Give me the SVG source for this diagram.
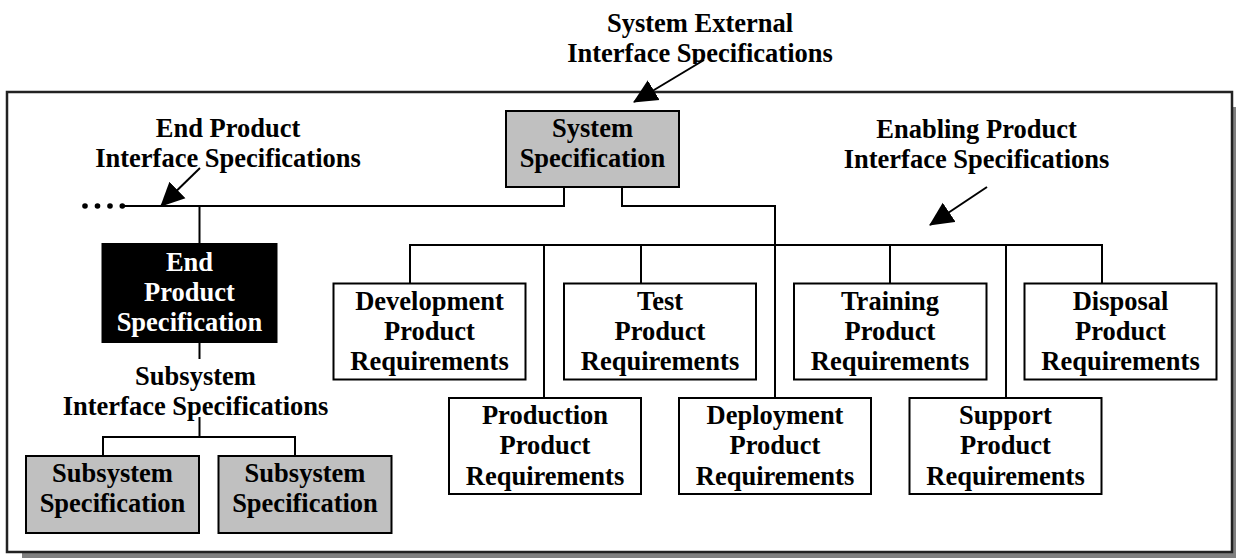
<svg xmlns="http://www.w3.org/2000/svg" width="1236" height="558" viewBox="0 0 1236 558">
  <style>
    text { font-family: "Liberation Serif", "Times New Roman", serif; font-weight: bold; font-size: 26.5px; text-anchor: middle; fill: #000; }
    .box { fill: #fff; stroke: #000; stroke-width: 2; }
    .gray { fill: #c0c0c0; stroke: #000; stroke-width: 2; }
    .black { fill: #000; stroke: #000; stroke-width: 2; }
    .wt { fill: #fff; }
    .conn { fill: none; stroke: #000; stroke-width: 2; }
  </style>
  <defs>
    <marker id="ah" markerUnits="userSpaceOnUse" markerWidth="24" markerHeight="24" viewBox="0 0 23 22" refX="22" refY="11" orient="auto">
      <path d="M0,0 L23,11 L0,22 z" fill="#000"/>
    </marker>
    <clipPath id="c1"><rect x="500" y="0" width="400" height="64"/></clipPath>
    <clipPath id="c2"><rect x="60" y="100" width="340" height="169"/></clipPath>
    <clipPath id="c3"><rect x="800" y="100" width="360" height="170"/></clipPath>
    <clipPath id="c4"><rect x="40" y="360" width="320" height="418"/></clipPath>
  </defs>

  <!-- frame with shadow -->
  <rect x="22" y="107" width="1225" height="460" fill="#808080"/>
  <rect x="7" y="92" width="1225" height="460" fill="#fff" stroke="#222" stroke-width="2.5"/>

  <!-- connectors -->
  <g id="connectors">
    <path class="conn" d="M564,187 V206 H122"/>
    <path class="conn" d="M622,187 V206 H775 V398"/>
    <path class="conn" d="M410,283 V245 H1102 V283"/>
    <path class="conn" d="M544,245 V398"/>
    <path class="conn" d="M641,245 V283"/>
    <path class="conn" d="M890,245 V283"/>
    <path class="conn" d="M1006,245 V398"/>
    <path class="conn" d="M199.5,206 V244"/>
    <path class="conn" d="M199.5,342 V359"/>
    <path class="conn" d="M199.5,417 V437"/>
    <path class="conn" d="M103,456 V437 H295 V456"/>
    <g fill="#000">
      <circle cx="85" cy="206" r="2.8"/>
      <circle cx="97.5" cy="206" r="2.8"/>
      <circle cx="110" cy="206" r="2.8"/>
      <circle cx="122.3" cy="206" r="2.8"/>
    </g>
    <line class="conn" x1="704" y1="60" x2="634" y2="102" marker-end="url(#ah)"/>
    <line class="conn" x1="200" y1="168" x2="161" y2="206" marker-end="url(#ah)"/>
    <line class="conn" x1="987" y1="187" x2="930" y2="225" marker-end="url(#ah)"/>
  </g>

  <!-- labels -->
  <g id="label-system-external" clip-path="url(#c1)">
    <text x="700" y="32">System External</text>
    <text x="700" y="62">Interface Specifications</text>
  </g>
  <g id="label-end-product" clip-path="url(#c2)">
    <text x="228" y="137">End Product</text>
    <text x="228" y="167">Interface Specifications</text>
  </g>
  <g id="label-enabling" clip-path="url(#c3)">
    <text x="976.5" y="138">Enabling Product</text>
    <text x="976.5" y="168">Interface Specifications</text>
  </g>
  <g id="label-subsystem" clip-path="url(#c4)">
    <text x="195.5" y="385">Subsystem</text>
    <text x="195.5" y="415">Interface Specifications</text>
  </g>

  <!-- nodes -->
  <g id="system-spec">
    <rect class="gray" x="506" y="111" width="173" height="76"/>
    <text x="592.5" y="137">System</text>
    <text x="592.5" y="167">Specification</text>
  </g>
  <g id="end-product-spec">
    <rect class="black" x="102.5" y="244" width="174" height="98"/>
    <text class="wt" x="189.5" y="271">End</text>
    <text class="wt" x="189.5" y="301">Product</text>
    <text class="wt" x="189.5" y="331">Specification</text>
  </g>
  <g id="subsystem-spec-1">
    <rect class="gray" x="26" y="456" width="173" height="77"/>
    <text x="112.5" y="482">Subsystem</text>
    <text x="112.5" y="512">Specification</text>
  </g>
  <g id="subsystem-spec-2">
    <rect class="gray" x="218.5" y="456" width="173" height="77"/>
    <text x="305" y="482">Subsystem</text>
    <text x="305" y="512">Specification</text>
  </g>

  <g id="development">
    <rect class="box" x="333.5" y="283.5" width="192" height="96"/>
    <text x="429.5" y="309.5">Development</text>
    <text x="429.5" y="339.5">Product</text>
    <text x="429.5" y="370">Requirements</text>
  </g>
  <g id="test">
    <rect class="box" x="564" y="283.5" width="192" height="96"/>
    <text x="660" y="309.5">Test</text>
    <text x="660" y="339.5">Product</text>
    <text x="660" y="370">Requirements</text>
  </g>
  <g id="training">
    <rect class="box" x="794" y="283.5" width="192.5" height="96"/>
    <text x="890" y="309.5">Training</text>
    <text x="890" y="339.5">Product</text>
    <text x="890" y="370">Requirements</text>
  </g>
  <g id="disposal">
    <rect class="box" x="1024.5" y="283.5" width="192" height="96"/>
    <text x="1120.5" y="309.5">Disposal</text>
    <text x="1120.5" y="339.5">Product</text>
    <text x="1120.5" y="370">Requirements</text>
  </g>
  <g id="production">
    <rect class="box" x="449" y="398" width="192" height="96"/>
    <text x="545" y="424">Production</text>
    <text x="545" y="454">Product</text>
    <text x="545" y="484.5">Requirements</text>
  </g>
  <g id="deployment">
    <rect class="box" x="679" y="398" width="192" height="96"/>
    <text x="775" y="424">Deployment</text>
    <text x="775" y="454">Product</text>
    <text x="775" y="484.5">Requirements</text>
  </g>
  <g id="support">
    <rect class="box" x="909.5" y="398" width="192" height="96"/>
    <text x="1005.5" y="424">Support</text>
    <text x="1005.5" y="454">Product</text>
    <text x="1005.5" y="484.5">Requirements</text>
  </g>
</svg>
